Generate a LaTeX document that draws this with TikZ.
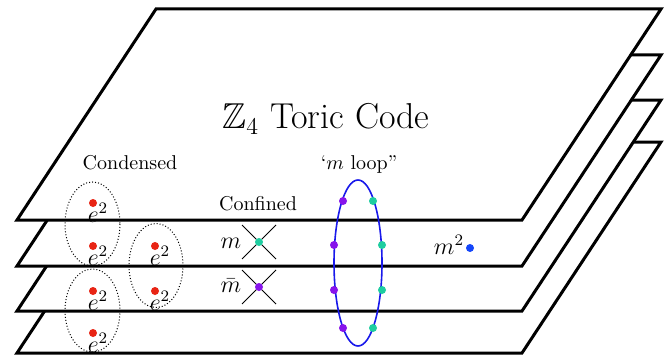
\documentclass[tikz,border=0pt]{standalone}
\usepackage{amssymb}
\definecolor{dotred}{RGB}{232,36,20}
\definecolor{dotteal}{RGB}{30,205,160}
\definecolor{dotpurple}{RGB}{135,20,235}
\definecolor{dotblue}{RGB}{20,70,250}
\definecolor{loopblue}{RGB}{25,25,235}
\begin{document}
\begin{tikzpicture}[x=0.5pt,y=-0.5pt,
  plane/.style={draw=black,fill=white,line width=1.5pt,line join=miter},
  edot/.style={circle,fill=dotred,inner sep=0pt,minimum size=4pt},
  tdot/.style={circle,fill=dotteal,inner sep=0pt,minimum size=4pt},
  pdot/.style={circle,fill=dotpurple,inner sep=0pt,minimum size=4pt},
  bdot/.style={circle,fill=dotblue,inner sep=0pt,minimum size=4pt},
  elab/.style={inner sep=0pt,font=\large},
  group/.style={draw=black,densely dotted,line width=0.5pt},
  crossline/.style={draw=black,line width=0.4pt},
  lab/.style={inner sep=0pt}]
\useasboundingbox (0,0) rectangle (672,358);
% planes, back to front
\foreach \b in {353,311,266,220}{
  \draw[plane] (17,\b) -- (156,\b-211) -- (661,\b-211) -- (522,\b) -- cycle;
}
\node[lab,font=\fontsize{18}{22}\selectfont] (title) at (326,119) {$\mathbb{Z}_4$ Toric Code};
\node[lab] (condensed) at (130,163) {Condensed};
\node[lab] (confined) at (258,204) {Confined};
\node[lab] (mlooplab) at (359,164) {`$m$ loop''};
% condensed e^2 groups
\draw[group] (92.5,224) ellipse (27.5 and 42);
\draw[group] (92.5,310.5) ellipse (27.5 and 41.5);
\draw[group] (156,265.5) ellipse (27 and 42);
\foreach \n/\x/\y in {a/93/203,b/93/246,c/93/291,d/93/333,e/155/246,f/155/291}{
  \node[elab] (l\n) at (\x+5,\y+10) {$e^2$};
  \node[edot] (d\n) at (\x,\y) {};
}
% confined m and mbar
\node[lab,font=\large] (mlab) at (231,243) {$m$};
\coordinate (mc) at (259,242);
\draw[crossline] (242,225) -- (276,259);
\draw[crossline] (276,225) -- (242,259);
\node[tdot] (mdot) at (mc) {};
\node[lab,font=\large] (mbarlab) at (231,286) {$\bar m$};
\coordinate (mbc) at (259,287);
\draw[crossline] (242,270) -- (276,304);
\draw[crossline] (276,270) -- (242,304);
\node[pdot] (mbdot) at (mbc) {};
% m loop
\draw[loopblue,line width=0.8pt] (358,263) ellipse (24 and 83);
\foreach \n/\x/\y in {1/343/201,2/334/245,3/334/290,4/343/328}{
  \node[pdot] (lp\n) at (\x,\y) {};
}
\foreach \n/\x/\y in {1/373/201,2/382/245,3/382/290,4/373/328}{
  \node[tdot] (lt\n) at (\x,\y) {};
}
% m^2
\node[lab,font=\large] (m2lab) at (449,245) {$m^2$};
\node[bdot] (m2dot) at (470,248) {};
\end{tikzpicture}
\end{document}
